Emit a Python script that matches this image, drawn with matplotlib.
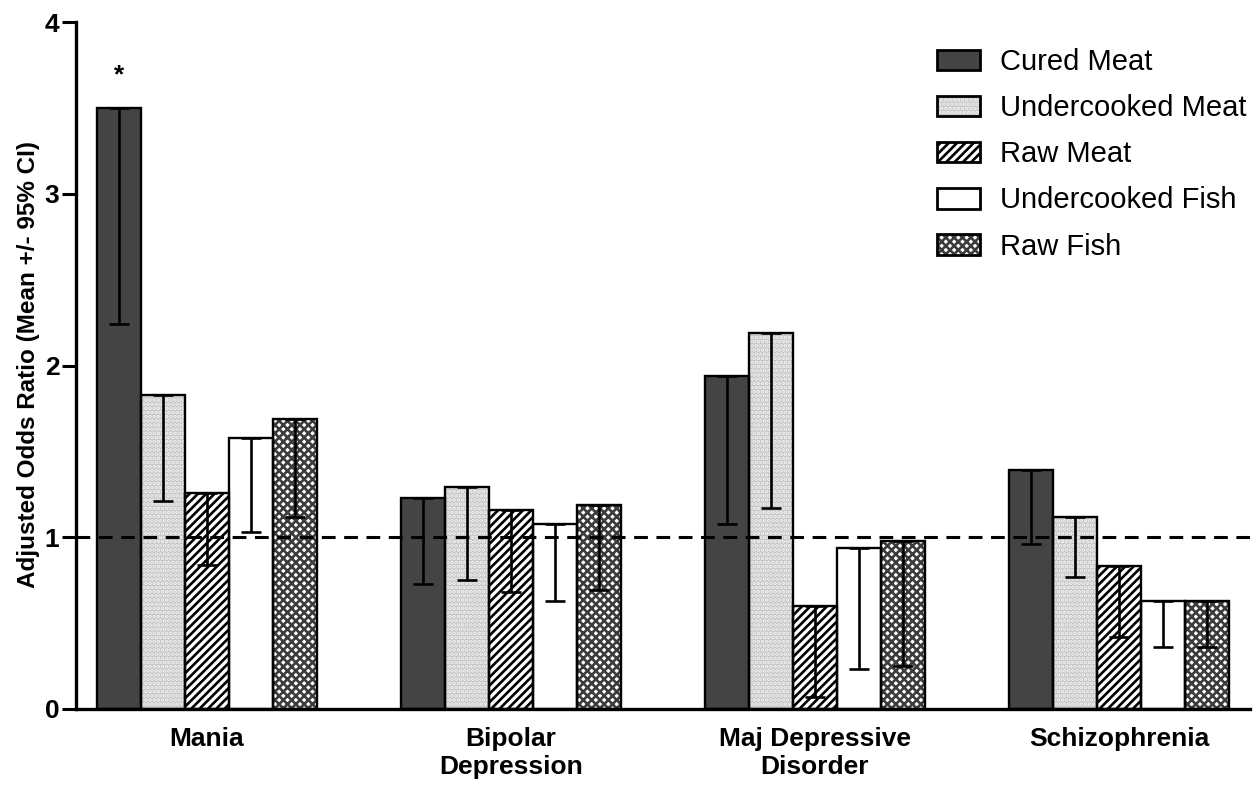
import matplotlib
matplotlib.use("Agg")
import matplotlib.pyplot as plt
import numpy as np
from matplotlib.patches import Patch
from matplotlib.legend_handler import HandlerTuple

plt.rcParams['font.family'] = ['Liberation Sans', 'DejaVu Sans']
plt.rcParams['hatch.linewidth'] = 1.9

categories = ["Mania", "Bipolar\nDepression", "Maj Depressive\nDisorder", "Schizophrenia"]
series = ["Cured Meat", "Undercooked Meat", "Raw Meat", "Undercooked Fish", "Raw Fish"]

cured_meat = [3.50, 1.23, 1.94, 1.39]
undercooked_meat = [1.83, 1.29, 2.19, 1.12]
raw_meat = [1.26, 1.16, 0.60, 0.83]
undercooked_fish = [1.58, 1.08, 0.94, 0.63]
raw_fish = [1.69, 1.19, 0.98, 0.63]

cured_meat_lo = [2.24, 0.73, 1.08, 0.96]
undercooked_meat_lo = [1.21, 0.75, 1.17, 0.77]
raw_meat_lo = [0.84, 0.68, 0.07, 0.42]
undercooked_fish_lo = [1.03, 0.63, 0.23, 0.36]
raw_fish_lo = [1.12, 0.69, 0.25, 0.36]

means = [cured_meat, undercooked_meat, raw_meat, undercooked_fish, raw_fish]
lows = [cured_meat_lo, undercooked_meat_lo, raw_meat_lo, undercooked_fish_lo, raw_fish_lo]

# style: (facecolor, hatch, hatchcolor)
styles = [
    ("#444444", None, "#444444"),
    ("#c4c4c4", "....", "#f2f2f2"),
    ("white", "////", "black"),
    ("white", None, "white"),
    ("#ffffff", "xxxx", "#3c3c3c"),
]

fig = plt.figure(figsize=(12.6, 7.88), dpi=100)
ax = fig.add_axes([76/1260, 79/788, (1250-76)/1260, (709-22)/788])

x = np.arange(len(categories))
w = 0.145
handles = []
for i, (m, lo, (fc, h, hc)) in enumerate(zip(means, lows, styles)):
    pos = x + (i - 2) * w
    ax.bar(pos, m, width=w, color=fc, edgecolor=hc, hatch=h, linewidth=0, zorder=2)
    ax.bar(pos, m, width=w, fill=False, edgecolor="black", linewidth=1.7, zorder=3)
    err = np.array([np.array(m) - np.array(lo), np.zeros(len(m))])
    ax.errorbar(pos, m, yerr=err, fmt="none", ecolor="black", elinewidth=1.9,
                capsize=7.2, capthick=1.9, zorder=4)
    p1 = Patch(facecolor=fc, edgecolor=hc, hatch=h, linewidth=0)
    p2 = Patch(fill=False, edgecolor="black", linewidth=2.0)
    handles.append((p1, p2))

ax.axhline(1.0, color="black", linestyle=(0, (4.5, 2.8)), linewidth=2.2, zorder=5)

ax.text(x[0] - 2 * w, 3.62, "*", ha="center", va="bottom", fontsize=19, fontweight="bold")

ax.set_xlim(-0.431, 3.431)
ax.set_ylim(0, 4)
ax.set_yticks([0, 1, 2, 3, 4])
ax.set_xticks(x)
ax.set_xticklabels(categories, fontsize=19, fontweight="bold", linespacing=1.2)
ax.tick_params(axis="x", length=0, pad=13)
ax.tick_params(axis="y", length=10, width=2.2, labelsize=19, pad=2)
for lab in ax.get_yticklabels():
    lab.set_fontweight("bold")

for s in ["top", "right"]:
    ax.spines[s].set_visible(False)
ax.spines["left"].set_linewidth(2.4)
ax.spines["bottom"].set_linewidth(2.4)

fig.text(29/1260, 1 - 365/788, "Adjusted Odds Ratio (Mean +/- 95% CI)", rotation=90,
         ha="center", va="center", fontsize=17.5, fontweight="bold")

leg = fig.legend(handles, series, handler_map={tuple: HandlerTuple(ndivide=1, pad=0)},
                 loc="upper left", bbox_to_anchor=(911/1260, 1 - 22/788), frameon=False,
                 fontsize=21, handlelength=1.45, handleheight=0.7,
                 labelspacing=0.62, handletextpad=0.7)

fig.savefig("out.png", dpi=100)
